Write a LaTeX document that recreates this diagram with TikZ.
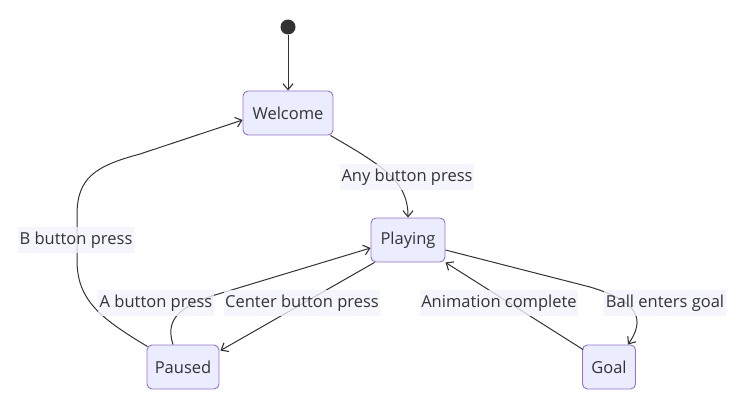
\documentclass[tikz,border=0pt]{standalone}
\usepackage{fontspec}
\setmainfont{Open Sans}
\usetikzlibrary{arrows.meta}
\definecolor{nodefill}{HTML}{ECECFF}
\definecolor{nodeline}{HTML}{9370DB}
\definecolor{ink}{HTML}{333333}
\definecolor{lblbg}{HTML}{F2F2FC}
\tikzset{
  state/.style={draw=nodeline, fill=nodefill, rounded corners=5pt, line width=0.9pt,
    minimum height=44pt, inner sep=0pt, text=ink, font=\fontsize{16.5}{19}\selectfont},
  edge/.style={draw=ink, line width=1pt, -{Straight Barb[length=6pt,width=10pt,line width=1.1pt]}},
  elabel/.style={fill=lblbg, fill opacity=0.8, text opacity=1, text=ink, inner xsep=1.5pt,
    minimum height=26pt, font=\fontsize{16.5}{19}\selectfont},
}
\begin{document}
\begin{tikzpicture}[x=1pt,y=-1pt]
\useasboundingbox (0,0) rectangle (743,404);
\node[circle, fill=ink, minimum size=15pt, inner sep=0pt] (start) at (288,27) {};
\node[state, minimum width=90pt] (welcome) at (288,113) {Welcome};
\node[state, minimum width=74pt] (playing) at (408,240) {Playing};
\node[state, minimum width=72pt] (paused) at (183,367) {Paused};
\node[state, minimum width=53pt] (goal) at (609,367) {Goal};

\draw[edge] (start.south) -- (welcome.north);
\draw[edge] ([xshift=-3pt,yshift=0pt]welcome.south east) .. controls (385,167) and (408,182) .. (playing.north);
\draw[edge] ([xshift=4pt]playing.south west) -- ([xshift=1pt,yshift=-6pt]paused.north east);
\draw[edge] ([xshift=-10pt]paused.north) .. controls (166,322) and (175,308) .. (215,295) -- ([yshift=-8pt]playing.west);
\draw[edge] ([xshift=1pt,yshift=-2pt]paused.north west) .. controls (100,318) and (77,300) .. (77,260) -- (77,215)
  .. controls (77,178) and (95,166) .. (140,154) -- ([yshift=-7pt]welcome.west);
\draw[edge] ([yshift=-10pt]playing.east) -- (590,287) .. controls (640,302) and (645,320) .. ([xshift=19pt]goal.north);
\draw[edge] ([xshift=1pt,yshift=-5pt]goal.north west) -- (playing.south east);

\node[elabel] (l1) at (407,177) {Any button press};
\node[elabel] (l2) at (76,240) {B button press};
\node[elabel] (l3) at (156,303) {A button press};
\node[elabel] (l4) at (302,303) {Center button press};
\node[elabel] (l5) at (499,303) {Animation complete};
\node[elabel] (l6) at (665,303) {Ball enters goal};
\end{tikzpicture}
\end{document}
